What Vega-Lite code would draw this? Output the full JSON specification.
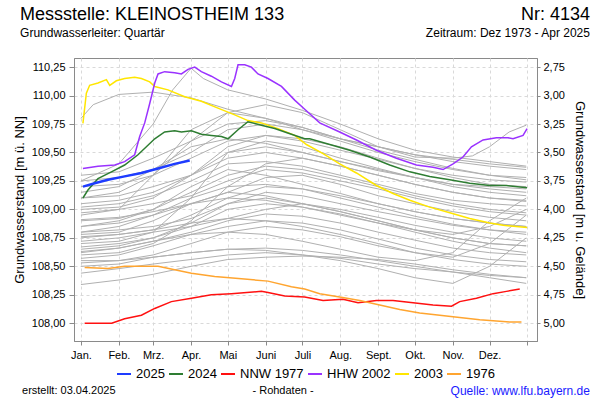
{
"$schema": "https://vega.github.io/schema/vega-lite/v6.json",
"width": 463, "height": 283,
"autosize": {"type": "none"},
"padding": {"left": 74, "top": 58, "right": 63, "bottom": 59},
"background": "white",
"config": {
  "font": "Liberation Sans",
  "view": {"stroke": "#8a8a8a", "strokeWidth": 1},
  "axis": {"labelFont": "Liberation Sans", "titleFont": "Liberation Sans", "labelColor": "#000000", "titleColor": "#000000", "titleFontWeight": "normal", "domainColor": "#8a8a8a", "tickColor": "#8a8a8a", "gridColor": "#d9d9d9", "gridDash": [3, 3]}
},
"datasets": {
"grau": [
{"s":"g1","d":0,"v":109.80},{"s":"g1","d":10,"v":109.92},{"s":"g1","d":31,"v":110.01},{"s":"g1","d":59,"v":110.03},{"s":"g1","d":90,"v":109.98},{"s":"g1","d":120,"v":109.88},{"s":"g1","d":151,"v":109.80},{"s":"g1","d":181,"v":109.70},{"s":"g1","d":212,"v":109.62},{"s":"g1","d":243,"v":109.55},{"s":"g1","d":273,"v":109.48},{"s":"g1","d":304,"v":109.44},{"s":"g1","d":334,"v":109.40},{"s":"g1","d":364,"v":109.37},
{"s":"g2","d":0,"v":109.25},{"s":"g2","d":31,"v":109.40},{"s":"g2","d":59,"v":109.75},{"s":"g2","d":75,"v":110.05},{"s":"g2","d":90,"v":110.24},{"s":"g2","d":100,"v":110.15},{"s":"g2","d":120,"v":110.05},{"s":"g2","d":151,"v":109.97},{"s":"g2","d":181,"v":109.87},{"s":"g2","d":212,"v":109.75},{"s":"g2","d":243,"v":109.62},{"s":"g2","d":273,"v":109.52},{"s":"g2","d":304,"v":109.46},{"s":"g2","d":334,"v":109.42},{"s":"g2","d":364,"v":109.38},
{"s":"g3","d":0,"v":109.10},{"s":"g3","d":31,"v":109.15},{"s":"g3","d":59,"v":109.30},{"s":"g3","d":90,"v":109.60},{"s":"g3","d":120,"v":109.85},{"s":"g3","d":151,"v":109.92},{"s":"g3","d":181,"v":109.85},{"s":"g3","d":212,"v":109.70},{"s":"g3","d":243,"v":109.55},{"s":"g3","d":273,"v":109.46},{"s":"g3","d":304,"v":109.45},{"s":"g3","d":320,"v":109.47},{"s":"g3","d":334,"v":109.55},{"s":"g3","d":350,"v":109.68},{"s":"g3","d":364,"v":109.74},
{"s":"g4","d":0,"v":109.30},{"s":"g4","d":31,"v":109.33},{"s":"g4","d":59,"v":109.45},{"s":"g4","d":90,"v":109.60},{"s":"g4","d":120,"v":109.75},{"s":"g4","d":151,"v":109.78},{"s":"g4","d":181,"v":109.72},{"s":"g4","d":212,"v":109.62},{"s":"g4","d":243,"v":109.55},{"s":"g4","d":273,"v":109.48},{"s":"g4","d":304,"v":109.42},{"s":"g4","d":334,"v":109.38},{"s":"g4","d":364,"v":109.35},
{"s":"g5","d":0,"v":109.20},{"s":"g5","d":31,"v":109.22},{"s":"g5","d":59,"v":109.30},{"s":"g5","d":90,"v":109.45},{"s":"g5","d":120,"v":109.60},{"s":"g5","d":151,"v":109.65},{"s":"g5","d":181,"v":109.60},{"s":"g5","d":212,"v":109.52},{"s":"g5","d":243,"v":109.44},{"s":"g5","d":273,"v":109.36},{"s":"g5","d":304,"v":109.30},{"s":"g5","d":334,"v":109.26},{"s":"g5","d":364,"v":109.24},
{"s":"g6","d":0,"v":109.15},{"s":"g6","d":31,"v":109.20},{"s":"g6","d":59,"v":109.35},{"s":"g6","d":90,"v":109.55},{"s":"g6","d":120,"v":109.62},{"s":"g6","d":151,"v":109.58},{"s":"g6","d":181,"v":109.50},{"s":"g6","d":212,"v":109.42},{"s":"g6","d":243,"v":109.34},{"s":"g6","d":273,"v":109.28},{"s":"g6","d":304,"v":109.22},{"s":"g6","d":334,"v":109.18},{"s":"g6","d":364,"v":109.15},
{"s":"g7","d":0,"v":109.10},{"s":"g7","d":31,"v":109.12},{"s":"g7","d":59,"v":109.20},{"s":"g7","d":90,"v":109.30},{"s":"g7","d":120,"v":109.45},{"s":"g7","d":151,"v":109.50},{"s":"g7","d":181,"v":109.45},{"s":"g7","d":212,"v":109.38},{"s":"g7","d":243,"v":109.30},{"s":"g7","d":273,"v":109.22},{"s":"g7","d":304,"v":109.15},{"s":"g7","d":334,"v":109.10},{"s":"g7","d":364,"v":109.08},
{"s":"g8","d":0,"v":109.02},{"s":"g8","d":31,"v":109.05},{"s":"g8","d":59,"v":109.12},{"s":"g8","d":90,"v":109.25},{"s":"g8","d":120,"v":109.40},{"s":"g8","d":151,"v":109.42},{"s":"g8","d":181,"v":109.38},{"s":"g8","d":212,"v":109.30},{"s":"g8","d":243,"v":109.22},{"s":"g8","d":273,"v":109.14},{"s":"g8","d":304,"v":109.08},{"s":"g8","d":334,"v":109.05},{"s":"g8","d":364,"v":109.03},
{"s":"g9","d":0,"v":108.97},{"s":"g9","d":31,"v":109.00},{"s":"g9","d":59,"v":109.05},{"s":"g9","d":90,"v":109.12},{"s":"g9","d":120,"v":109.25},{"s":"g9","d":151,"v":109.35},{"s":"g9","d":181,"v":109.32},{"s":"g9","d":212,"v":109.25},{"s":"g9","d":243,"v":109.18},{"s":"g9","d":273,"v":109.10},{"s":"g9","d":304,"v":109.03},{"s":"g9","d":334,"v":108.98},{"s":"g9","d":364,"v":108.95},
{"s":"g10","d":0,"v":108.91},{"s":"g10","d":31,"v":108.93},{"s":"g10","d":59,"v":108.98},{"s":"g10","d":90,"v":109.05},{"s":"g10","d":120,"v":109.15},{"s":"g10","d":151,"v":109.28},{"s":"g10","d":181,"v":109.30},{"s":"g10","d":212,"v":109.22},{"s":"g10","d":243,"v":109.12},{"s":"g10","d":273,"v":109.05},{"s":"g10","d":304,"v":108.98},{"s":"g10","d":334,"v":108.93},{"s":"g10","d":364,"v":108.90},
{"s":"g11","d":0,"v":108.85},{"s":"g11","d":31,"v":108.90},{"s":"g11","d":59,"v":109.00},{"s":"g11","d":90,"v":109.20},{"s":"g11","d":120,"v":109.35},{"s":"g11","d":151,"v":109.30},{"s":"g11","d":181,"v":109.22},{"s":"g11","d":212,"v":109.14},{"s":"g11","d":243,"v":109.05},{"s":"g11","d":273,"v":108.98},{"s":"g11","d":304,"v":108.92},{"s":"g11","d":334,"v":108.88},{"s":"g11","d":364,"v":108.85},
{"s":"g12","d":0,"v":108.80},{"s":"g12","d":31,"v":108.82},{"s":"g12","d":59,"v":108.85},{"s":"g12","d":90,"v":108.92},{"s":"g12","d":120,"v":109.05},{"s":"g12","d":151,"v":109.15},{"s":"g12","d":181,"v":109.12},{"s":"g12","d":212,"v":109.05},{"s":"g12","d":243,"v":108.98},{"s":"g12","d":273,"v":108.92},{"s":"g12","d":304,"v":108.86},{"s":"g12","d":334,"v":108.82},{"s":"g12","d":364,"v":108.80},
{"s":"g13","d":0,"v":108.76},{"s":"g13","d":31,"v":108.78},{"s":"g13","d":59,"v":108.82},{"s":"g13","d":90,"v":108.95},{"s":"g13","d":120,"v":109.10},{"s":"g13","d":151,"v":109.20},{"s":"g13","d":181,"v":109.18},{"s":"g13","d":212,"v":109.10},{"s":"g13","d":243,"v":109.02},{"s":"g13","d":273,"v":108.94},{"s":"g13","d":304,"v":108.87},{"s":"g13","d":334,"v":108.82},{"s":"g13","d":364,"v":108.78},
{"s":"g14","d":0,"v":108.72},{"s":"g14","d":31,"v":108.75},{"s":"g14","d":59,"v":108.80},{"s":"g14","d":90,"v":108.85},{"s":"g14","d":120,"v":108.92},{"s":"g14","d":151,"v":109.00},{"s":"g14","d":181,"v":109.05},{"s":"g14","d":212,"v":109.00},{"s":"g14","d":243,"v":108.93},{"s":"g14","d":273,"v":108.86},{"s":"g14","d":304,"v":108.80},{"s":"g14","d":334,"v":108.75},{"s":"g14","d":364,"v":108.72},
{"s":"g15","d":0,"v":108.67},{"s":"g15","d":31,"v":108.70},{"s":"g15","d":59,"v":108.75},{"s":"g15","d":90,"v":108.88},{"s":"g15","d":120,"v":109.05},{"s":"g15","d":151,"v":109.10},{"s":"g15","d":181,"v":109.05},{"s":"g15","d":212,"v":108.98},{"s":"g15","d":243,"v":108.90},{"s":"g15","d":273,"v":108.82},{"s":"g15","d":304,"v":108.75},{"s":"g15","d":334,"v":108.70},{"s":"g15","d":364,"v":108.68},
{"s":"g16","d":0,"v":108.63},{"s":"g16","d":31,"v":108.66},{"s":"g16","d":59,"v":108.72},{"s":"g16","d":90,"v":108.80},{"s":"g16","d":120,"v":108.90},{"s":"g16","d":151,"v":108.96},{"s":"g16","d":181,"v":108.94},{"s":"g16","d":212,"v":108.88},{"s":"g16","d":243,"v":108.80},{"s":"g16","d":273,"v":108.73},{"s":"g16","d":304,"v":108.66},{"s":"g16","d":334,"v":108.62},{"s":"g16","d":364,"v":108.60},
{"s":"g17","d":0,"v":108.57},{"s":"g17","d":31,"v":108.60},{"s":"g17","d":59,"v":108.68},{"s":"g17","d":90,"v":108.78},{"s":"g17","d":120,"v":108.85},{"s":"g17","d":151,"v":108.90},{"s":"g17","d":181,"v":108.88},{"s":"g17","d":212,"v":108.82},{"s":"g17","d":243,"v":108.74},{"s":"g17","d":273,"v":108.66},{"s":"g17","d":304,"v":108.60},{"s":"g17","d":334,"v":108.56},{"s":"g17","d":364,"v":108.54},
{"s":"g18","d":0,"v":108.53},{"s":"g18","d":31,"v":108.55},{"s":"g18","d":59,"v":108.60},{"s":"g18","d":90,"v":108.70},{"s":"g18","d":120,"v":108.80},{"s":"g18","d":151,"v":108.85},{"s":"g18","d":181,"v":108.82},{"s":"g18","d":212,"v":108.76},{"s":"g18","d":243,"v":108.68},{"s":"g18","d":273,"v":108.62},{"s":"g18","d":304,"v":108.56},{"s":"g18","d":334,"v":108.52},{"s":"g18","d":364,"v":108.50},
{"s":"g19","d":0,"v":108.44},{"s":"g19","d":31,"v":108.48},{"s":"g19","d":59,"v":108.52},{"s":"g19","d":90,"v":108.56},{"s":"g19","d":120,"v":108.60},{"s":"g19","d":151,"v":108.62},{"s":"g19","d":181,"v":108.60},{"s":"g19","d":212,"v":108.57},{"s":"g19","d":243,"v":108.52},{"s":"g19","d":273,"v":108.48},{"s":"g19","d":304,"v":108.45},{"s":"g19","d":334,"v":108.42},{"s":"g19","d":364,"v":108.40},
{"s":"g20","d":0,"v":108.34},{"s":"g20","d":31,"v":108.38},{"s":"g20","d":59,"v":108.43},{"s":"g20","d":90,"v":108.50},{"s":"g20","d":120,"v":108.56},{"s":"g20","d":151,"v":108.58},{"s":"g20","d":181,"v":108.59},{"s":"g20","d":212,"v":108.58},{"s":"g20","d":243,"v":108.56},{"s":"g20","d":273,"v":108.52},{"s":"g20","d":304,"v":108.47},{"s":"g20","d":334,"v":108.43},{"s":"g20","d":364,"v":108.40},
{"s":"g21","d":0,"v":108.70},{"s":"g21","d":31,"v":108.72},{"s":"g21","d":59,"v":108.80},{"s":"g21","d":90,"v":109.10},{"s":"g21","d":120,"v":109.50},{"s":"g21","d":151,"v":109.60},{"s":"g21","d":181,"v":109.55},{"s":"g21","d":212,"v":109.45},{"s":"g21","d":243,"v":109.36},{"s":"g21","d":273,"v":109.28},{"s":"g21","d":304,"v":109.20},{"s":"g21","d":334,"v":109.15},{"s":"g21","d":364,"v":109.12},
{"s":"g22","d":0,"v":108.95},{"s":"g22","d":31,"v":109.00},{"s":"g22","d":59,"v":109.30},{"s":"g22","d":90,"v":109.70},{"s":"g22","d":120,"v":109.85},{"s":"g22","d":151,"v":109.80},{"s":"g22","d":181,"v":109.72},{"s":"g22","d":212,"v":109.62},{"s":"g22","d":243,"v":109.52},{"s":"g22","d":273,"v":109.44},{"s":"g22","d":304,"v":109.36},{"s":"g22","d":334,"v":109.30},{"s":"g22","d":364,"v":109.26},
{"s":"g23","d":0,"v":108.60},{"s":"g23","d":31,"v":108.62},{"s":"g23","d":59,"v":108.70},{"s":"g23","d":90,"v":108.90},{"s":"g23","d":120,"v":109.20},{"s":"g23","d":151,"v":109.40},{"s":"g23","d":181,"v":109.45},{"s":"g23","d":212,"v":109.38},{"s":"g23","d":243,"v":109.30},{"s":"g23","d":273,"v":109.22},{"s":"g23","d":304,"v":109.15},{"s":"g23","d":334,"v":109.10},{"s":"g23","d":364,"v":109.07},
{"s":"g24","d":0,"v":108.85},{"s":"g24","d":31,"v":108.88},{"s":"g24","d":59,"v":108.95},{"s":"g24","d":90,"v":109.05},{"s":"g24","d":120,"v":109.10},{"s":"g24","d":151,"v":109.08},{"s":"g24","d":181,"v":109.02},{"s":"g24","d":212,"v":108.95},{"s":"g24","d":243,"v":108.88},{"s":"g24","d":273,"v":108.82},{"s":"g24","d":304,"v":108.78},{"s":"g24","d":334,"v":108.85},{"s":"g24","d":364,"v":109.00},
{"s":"g25","d":0,"v":108.75},{"s":"g25","d":31,"v":108.78},{"s":"g25","d":59,"v":108.82},{"s":"g25","d":90,"v":108.88},{"s":"g25","d":120,"v":108.92},{"s":"g25","d":151,"v":108.90},{"s":"g25","d":181,"v":108.85},{"s":"g25","d":212,"v":108.78},{"s":"g25","d":243,"v":108.70},{"s":"g25","d":273,"v":108.62},{"s":"g25","d":304,"v":108.58},{"s":"g25","d":334,"v":108.70},{"s":"g25","d":364,"v":108.95},
{"s":"g26","d":0,"v":109.05},{"s":"g26","d":31,"v":109.08},{"s":"g26","d":59,"v":109.15},{"s":"g26","d":90,"v":109.30},{"s":"g26","d":120,"v":109.50},{"s":"g26","d":151,"v":109.55},{"s":"g26","d":181,"v":109.50},{"s":"g26","d":212,"v":109.42},{"s":"g26","d":243,"v":109.35},{"s":"g26","d":273,"v":109.28},{"s":"g26","d":304,"v":109.22},{"s":"g26","d":334,"v":109.20},{"s":"g26","d":364,"v":109.18},
{"s":"g27","d":0,"v":108.50},{"s":"g27","d":31,"v":108.52},{"s":"g27","d":59,"v":108.58},{"s":"g27","d":90,"v":108.62},{"s":"g27","d":120,"v":108.65},{"s":"g27","d":151,"v":108.66},{"s":"g27","d":181,"v":108.64},{"s":"g27","d":212,"v":108.60},{"s":"g27","d":243,"v":108.55},{"s":"g27","d":273,"v":108.50},{"s":"g27","d":304,"v":108.45},{"s":"g27","d":334,"v":108.40},{"s":"g27","d":364,"v":108.35},
{"s":"g28","d":0,"v":108.80},{"s":"g28","d":31,"v":108.85},{"s":"g28","d":59,"v":108.95},{"s":"g28","d":90,"v":109.10},{"s":"g28","d":120,"v":109.20},{"s":"g28","d":151,"v":109.22},{"s":"g28","d":181,"v":109.18},{"s":"g28","d":212,"v":109.12},{"s":"g28","d":243,"v":109.05},{"s":"g28","d":273,"v":108.98},{"s":"g28","d":304,"v":108.92},{"s":"g28","d":334,"v":108.88},{"s":"g28","d":364,"v":108.85},
{"s":"g29","d":0,"v":109.25},{"s":"g29","d":31,"v":109.28},{"s":"g29","d":59,"v":109.35},{"s":"g29","d":90,"v":109.50},{"s":"g29","d":120,"v":109.70},{"s":"g29","d":151,"v":109.75},{"s":"g29","d":181,"v":109.70},{"s":"g29","d":212,"v":109.60},{"s":"g29","d":243,"v":109.50},{"s":"g29","d":273,"v":109.42},{"s":"g29","d":304,"v":109.35},{"s":"g29","d":334,"v":109.30},{"s":"g29","d":364,"v":109.28},
{"s":"g30","d":0,"v":108.65},{"s":"g30","d":31,"v":108.68},{"s":"g30","d":59,"v":108.75},{"s":"g30","d":90,"v":108.85},{"s":"g30","d":120,"v":109.00},{"s":"g30","d":151,"v":109.05},{"s":"g30","d":181,"v":109.02},{"s":"g30","d":212,"v":108.96},{"s":"g30","d":243,"v":108.88},{"s":"g30","d":273,"v":108.80},{"s":"g30","d":304,"v":108.72},{"s":"g30","d":334,"v":108.66},{"s":"g30","d":364,"v":108.62},
{"s":"g31","d":0,"v":108.90},{"s":"g31","d":31,"v":108.92},{"s":"g31","d":59,"v":109.00},{"s":"g31","d":90,"v":109.15},{"s":"g31","d":120,"v":109.30},{"s":"g31","d":151,"v":109.38},{"s":"g31","d":181,"v":109.35},{"s":"g31","d":212,"v":109.28},{"s":"g31","d":243,"v":109.20},{"s":"g31","d":273,"v":109.12},{"s":"g31","d":304,"v":109.05},{"s":"g31","d":334,"v":109.00},{"s":"g31","d":364,"v":108.97},
{"s":"g32","d":0,"v":108.55},{"s":"g32","d":31,"v":108.55},{"s":"g32","d":59,"v":108.58},{"s":"g32","d":90,"v":108.62},{"s":"g32","d":120,"v":108.65},{"s":"g32","d":151,"v":108.64},{"s":"g32","d":181,"v":108.60},{"s":"g32","d":212,"v":108.55},{"s":"g32","d":243,"v":108.48},{"s":"g32","d":273,"v":108.40},{"s":"g32","d":304,"v":108.35},{"s":"g32","d":334,"v":108.50},{"s":"g32","d":364,"v":108.75},
{"s":"g33","d":0,"v":109.00},{"s":"g33","d":31,"v":109.02},{"s":"g33","d":59,"v":109.10},{"s":"g33","d":90,"v":109.30},{"s":"g33","d":120,"v":109.55},{"s":"g33","d":151,"v":109.65},{"s":"g33","d":181,"v":109.62},{"s":"g33","d":212,"v":109.55},{"s":"g33","d":243,"v":109.45},{"s":"g33","d":273,"v":109.36},{"s":"g33","d":304,"v":109.28},{"s":"g33","d":334,"v":109.22},{"s":"g33","d":364,"v":109.20},
{"s":"g34","d":0,"v":108.78},{"s":"g34","d":31,"v":108.80},{"s":"g34","d":59,"v":108.90},{"s":"g34","d":90,"v":109.05},{"s":"g34","d":120,"v":109.15},{"s":"g34","d":151,"v":109.12},{"s":"g34","d":181,"v":109.05},{"s":"g34","d":212,"v":108.98},{"s":"g34","d":243,"v":108.90},{"s":"g34","d":273,"v":108.82},{"s":"g34","d":304,"v":108.75},{"s":"g34","d":334,"v":108.70},{"s":"g34","d":364,"v":108.68},
{"s":"g35","d":0,"v":108.62},{"s":"g35","d":31,"v":108.66},{"s":"g35","d":59,"v":108.72},{"s":"g35","d":90,"v":108.78},{"s":"g35","d":120,"v":108.80},{"s":"g35","d":151,"v":108.78},{"s":"g35","d":181,"v":108.72},{"s":"g35","d":212,"v":108.65},{"s":"g35","d":243,"v":108.58},{"s":"g35","d":273,"v":108.55},{"s":"g35","d":304,"v":108.62},{"s":"g35","d":334,"v":108.90},{"s":"g35","d":364,"v":109.10}
],
"farbig": [
{"s":"2003","d":1.6,"v":109.756},{"s":"2003","d":4.4,"v":110.02},{"s":"2003","d":7.1,"v":110.09},{"s":"2003","d":13.9,"v":110.11},{"s":"2003","d":20.8,"v":110.14},{"s":"2003","d":23.5,"v":110.09},{"s":"2003","d":28.9,"v":110.13},{"s":"2003","d":35.7,"v":110.15},{"s":"2003","d":43.9,"v":110.16},{"s":"2003","d":49.4,"v":110.15},{"s":"2003","d":56.2,"v":110.12},{"s":"2003","d":60.3,"v":110.08},{"s":"2003","d":71.1,"v":110.05},{"s":"2003","d":84.8,"v":109.99},{"s":"2003","d":98.4,"v":109.95},{"s":"2003","d":112,"v":109.89},{"s":"2003","d":125.7,"v":109.83},{"s":"2003","d":136.5,"v":109.78},{"s":"2003","d":147.5,"v":109.76},{"s":"2003","d":161.1,"v":109.71},{"s":"2003","d":174.7,"v":109.65},{"s":"2003","d":184.3,"v":109.57},{"s":"2003","d":197.9,"v":109.49},{"s":"2003","d":211.5,"v":109.40},{"s":"2003","d":225.2,"v":109.32},{"s":"2003","d":241.5,"v":109.21},{"s":"2003","d":255.1,"v":109.14},{"s":"2003","d":268.8,"v":109.08},{"s":"2003","d":285.1,"v":109.02},{"s":"2003","d":301.5,"v":108.97},{"s":"2003","d":317.8,"v":108.92},{"s":"2003","d":334.2,"v":108.88},{"s":"2003","d":345.1,"v":108.86},{"s":"2003","d":364.7,"v":108.84},
{"s":"HHW 2002","d":1.6,"v":109.36},{"s":"HHW 2002","d":13.9,"v":109.38},{"s":"HHW 2002","d":27.6,"v":109.39},{"s":"HHW 2002","d":35.7,"v":109.42},{"s":"HHW 2002","d":43.9,"v":109.48},{"s":"HHW 2002","d":48,"v":109.64},{"s":"HHW 2002","d":52.1,"v":109.76},{"s":"HHW 2002","d":56.2,"v":109.93},{"s":"HHW 2002","d":60.3,"v":110.11},{"s":"HHW 2002","d":63,"v":110.19},{"s":"HHW 2002","d":68.4,"v":110.21},{"s":"HHW 2002","d":76.6,"v":110.20},{"s":"HHW 2002","d":82.1,"v":110.19},{"s":"HHW 2002","d":87.5,"v":110.23},{"s":"HHW 2002","d":93,"v":110.25},{"s":"HHW 2002","d":98.4,"v":110.21},{"s":"HHW 2002","d":106.6,"v":110.17},{"s":"HHW 2002","d":114.8,"v":110.12},{"s":"HHW 2002","d":123,"v":110.08},{"s":"HHW 2002","d":125.7,"v":110.15},{"s":"HHW 2002","d":128.4,"v":110.27},{"s":"HHW 2002","d":133.9,"v":110.27},{"s":"HHW 2002","d":139.3,"v":110.25},{"s":"HHW 2002","d":144.7,"v":110.19},{"s":"HHW 2002","d":152.9,"v":110.15},{"s":"HHW 2002","d":163.9,"v":110.08},{"s":"HHW 2002","d":174.7,"v":109.96},{"s":"HHW 2002","d":182.9,"v":109.88},{"s":"HHW 2002","d":195.2,"v":109.76},{"s":"HHW 2002","d":211.5,"v":109.68},{"s":"HHW 2002","d":225.2,"v":109.61},{"s":"HHW 2002","d":241.5,"v":109.52},{"s":"HHW 2002","d":257.9,"v":109.45},{"s":"HHW 2002","d":274.2,"v":109.39},{"s":"HHW 2002","d":287.8,"v":109.37},{"s":"HHW 2002","d":296,"v":109.35},{"s":"HHW 2002","d":304.2,"v":109.40},{"s":"HHW 2002","d":312.3,"v":109.46},{"s":"HHW 2002","d":319.2,"v":109.55},{"s":"HHW 2002","d":328.7,"v":109.61},{"s":"HHW 2002","d":339.6,"v":109.63},{"s":"HHW 2002","d":349.1,"v":109.63},{"s":"HHW 2002","d":353.2,"v":109.62},{"s":"HHW 2002","d":361.4,"v":109.65},{"s":"HHW 2002","d":364.7,"v":109.71},
{"s":"2024","d":1.6,"v":109.10},{"s":"2024","d":5.7,"v":109.17},{"s":"2024","d":13.9,"v":109.27},{"s":"2024","d":24.9,"v":109.33},{"s":"2024","d":35.7,"v":109.39},{"s":"2024","d":46.6,"v":109.48},{"s":"2024","d":60.3,"v":109.62},{"s":"2024","d":68.4,"v":109.68},{"s":"2024","d":76.6,"v":109.69},{"s":"2024","d":82.1,"v":109.68},{"s":"2024","d":90.3,"v":109.69},{"s":"2024","d":98.4,"v":109.66},{"s":"2024","d":106.6,"v":109.65},{"s":"2024","d":114.8,"v":109.64},{"s":"2024","d":120.2,"v":109.62},{"s":"2024","d":128.4,"v":109.70},{"s":"2024","d":136.5,"v":109.77},{"s":"2024","d":147.5,"v":109.74},{"s":"2024","d":158.4,"v":109.71},{"s":"2024","d":172,"v":109.66},{"s":"2024","d":182.9,"v":109.62},{"s":"2024","d":187,"v":109.62},{"s":"2024","d":203.4,"v":109.57},{"s":"2024","d":219.7,"v":109.52},{"s":"2024","d":236.1,"v":109.46},{"s":"2024","d":252.4,"v":109.39},{"s":"2024","d":268.8,"v":109.33},{"s":"2024","d":285.1,"v":109.29},{"s":"2024","d":301.5,"v":109.26},{"s":"2024","d":317.8,"v":109.23},{"s":"2024","d":334.2,"v":109.21},{"s":"2024","d":347.8,"v":109.21},{"s":"2024","d":364.7,"v":109.19},
{"s":"NNW 1977","d":3,"v":108.00},{"s":"NNW 1977","d":25.1,"v":108.00},{"s":"NNW 1977","d":35.7,"v":108.04},{"s":"NNW 1977","d":49.4,"v":108.07},{"s":"NNW 1977","d":60.3,"v":108.13},{"s":"NNW 1977","d":73.9,"v":108.19},{"s":"NNW 1977","d":90.3,"v":108.22},{"s":"NNW 1977","d":106.6,"v":108.25},{"s":"NNW 1977","d":123,"v":108.26},{"s":"NNW 1977","d":147.5,"v":108.28},{"s":"NNW 1977","d":152.9,"v":108.27},{"s":"NNW 1977","d":166.6,"v":108.24},{"s":"NNW 1977","d":182.9,"v":108.23},{"s":"NNW 1977","d":197.9,"v":108.20},{"s":"NNW 1977","d":214.2,"v":108.21},{"s":"NNW 1977","d":226.5,"v":108.18},{"s":"NNW 1977","d":241.5,"v":108.20},{"s":"NNW 1977","d":255.1,"v":108.20},{"s":"NNW 1977","d":271.5,"v":108.18},{"s":"NNW 1977","d":287.8,"v":108.16},{"s":"NNW 1977","d":302.9,"v":108.15},{"s":"NNW 1977","d":309.6,"v":108.19},{"s":"NNW 1977","d":323.3,"v":108.22},{"s":"NNW 1977","d":336.9,"v":108.26},{"s":"NNW 1977","d":347.8,"v":108.28},{"s":"NNW 1977","d":358.7,"v":108.30},
{"s":"1976","d":3,"v":108.49},{"s":"1976","d":22.1,"v":108.48},{"s":"1976","d":35.7,"v":108.50},{"s":"1976","d":49.4,"v":108.50},{"s":"1976","d":63,"v":108.50},{"s":"1976","d":76.6,"v":108.47},{"s":"1976","d":90.3,"v":108.44},{"s":"1976","d":109.3,"v":108.41},{"s":"1976","d":131.2,"v":108.39},{"s":"1976","d":152.9,"v":108.37},{"s":"1976","d":172,"v":108.32},{"s":"1976","d":182.9,"v":108.30},{"s":"1976","d":195.2,"v":108.26},{"s":"1976","d":211.5,"v":108.23},{"s":"1976","d":227.9,"v":108.20},{"s":"1976","d":244.2,"v":108.16},{"s":"1976","d":260.6,"v":108.12},{"s":"1976","d":276.9,"v":108.09},{"s":"1976","d":293.3,"v":108.07},{"s":"1976","d":309.6,"v":108.05},{"s":"1976","d":326,"v":108.03},{"s":"1976","d":339.6,"v":108.02},{"s":"1976","d":350.5,"v":108.01},{"s":"1976","d":360.1,"v":108.01},
{"s":"2025","d":1.6,"v":109.20},{"s":"2025","d":11.2,"v":109.23},{"s":"2025","d":22.1,"v":109.26},{"s":"2025","d":35.7,"v":109.29},{"s":"2025","d":49.4,"v":109.32},{"s":"2025","d":63,"v":109.36},{"s":"2025","d":76.6,"v":109.40},{"s":"2025","d":88.9,"v":109.43}
]
},
"layer": [
{"layer": [
  {"data": {"name": "grau"},
   "mark": {"type": "line", "stroke": "#b0b0b0", "strokeWidth": 1, "clip": true},
   "encoding": {
     "x": {"field": "d", "type": "quantitative", "scale": {"domain": [-5.7, 372.8], "nice": false, "zero": false},
           "axis": {"values": [0,31,59,90,120,151,181,212,243,273,304,334,365], "tickCount": 30, "labelExpr": "['Jan.','Feb.','Mrz.','Apr.','Mai','Juni','Juli','Aug.','Sept.','Okt.','Nov.','Dez.',''][indexof([0,31,59,90,120,151,181,212,243,273,304,334,365], datum.value)]", "labelDx": 19, "labelFontSize": 11, "tickSize": 4, "labelPadding": 4, "title": null, "grid": true, "labelAngle": 0, "labelFlush": false, "labelOverlap": false}},
     "y": {"field": "v", "type": "quantitative", "scale": {"domain": [107.844, 110.33], "nice": false, "zero": false},
           "axis": {"values": [108,108.25,108.5,108.75,109,109.25,109.5,109.75,110,110.25], "tickCount": 30, "labelExpr": "replace(format(datum.value, '.2f'), '.', ',')", "labelFontSize": 11, "tickSize": 5, "labelPadding": 4, "title": "Grundwasserstand [m ü. NN]", "titleFontSize": 13, "titlePadding": 5, "grid": true, "labelFlush": false, "labelOverlap": false}},
     "detail": {"field": "s"}
   }},
  {"data": {"name": "farbig"},
   "transform": [{"filter": "datum.s !== '2025'"}],
   "mark": {"type": "line", "strokeWidth": 1.5, "clip": true},
   "encoding": {
     "x": {"field": "d", "type": "quantitative", "scale": {"domain": [-5.7, 372.8], "nice": false, "zero": false}},
     "y": {"field": "v", "type": "quantitative", "scale": {"domain": [107.844, 110.33], "nice": false, "zero": false}},
     "color": {"field": "s", "type": "nominal",
       "scale": {"domain": ["2025", "2024", "NNW 1977", "HHW 2002", "2003", "1976"], "range": ["#1e3cff", "#2e7d32", "#ff1010", "#9a32ff", "#ffe600", "#ffa530"]},
       "legend": {"title": null, "orient": "none", "legendX": 42, "legendY": 308, "direction": "horizontal", "symbolType": "stroke", "symbolSize": 196, "symbolStrokeWidth": 2, "labelFontSize": 13, "labelFont": "Liberation Sans", "labelColor": "#000000", "labelOffset": 4, "columnPadding": 0}}
   }},
  {"data": {"name": "farbig"},
   "transform": [{"filter": "datum.s === '2025'"}],
   "mark": {"type": "line", "strokeWidth": 2.5, "clip": true},
   "encoding": {
     "x": {"field": "d", "type": "quantitative", "scale": {"domain": [-5.7, 372.8], "nice": false, "zero": false}},
     "y": {"field": "v", "type": "quantitative", "scale": {"domain": [107.844, 110.33], "nice": false, "zero": false}},
     "color": {"field": "s", "type": "nominal", "scale": {"domain": ["2025", "2024", "NNW 1977", "HHW 2002", "2003", "1976"], "range": ["#1e3cff", "#2e7d32", "#ff1010", "#9a32ff", "#ffe600", "#ffa530"]}}
   }},
  {"data": {"values": [{}]},
   "mark": {"type": "text", "text": "Messstelle: KLEINOSTHEIM 133", "align": "left", "baseline": "middle", "fontSize": 18, "font": "Liberation Sans", "color": "#000000"},
   "encoding": {"x": {"datum": -49.8, "type": "quantitative"}, "y": {"datum": 110.71, "type": "quantitative"}}},
  {"data": {"values": [{}]},
   "mark": {"type": "text", "text": "Grundwasserleiter: Quartär", "align": "left", "baseline": "middle", "fontSize": 12, "font": "Liberation Sans", "color": "#000000"},
   "encoding": {"x": {"datum": -49.8, "type": "quantitative"}, "y": {"datum": 110.55, "type": "quantitative"}}},
  {"data": {"values": [{}]},
   "mark": {"type": "text", "text": "Nr: 4134", "align": "right", "baseline": "middle", "fontSize": 18, "font": "Liberation Sans", "color": "#000000"},
   "encoding": {"x": {"datum": 416.1, "type": "quantitative"}, "y": {"datum": 110.71, "type": "quantitative"}}},
  {"data": {"values": [{}]},
   "mark": {"type": "text", "text": "Zeitraum: Dez 1973 - Apr 2025", "align": "right", "baseline": "middle", "fontSize": 12, "font": "Liberation Sans", "color": "#000000"},
   "encoding": {"x": {"datum": 416.1, "type": "quantitative"}, "y": {"datum": 110.55, "type": "quantitative"}}},
  {"data": {"values": [{}]},
   "mark": {"type": "text", "text": "erstellt:  03.04.2025", "align": "left", "baseline": "middle", "fontSize": 11, "font": "Liberation Sans", "color": "#000000"},
   "encoding": {"x": {"datum": -48.2, "type": "quantitative"}, "y": {"datum": 107.405, "type": "quantitative"}}},
  {"data": {"values": [{}]},
   "mark": {"type": "text", "text": "- Rohdaten -", "align": "center", "baseline": "middle", "fontSize": 11, "font": "Liberation Sans", "color": "#000000"},
   "encoding": {"x": {"datum": 165.2, "type": "quantitative"}, "y": {"datum": 107.405, "type": "quantitative"}}},
  {"data": {"values": [{}]},
   "mark": {"type": "text", "text": "Quelle: www.lfu.bayern.de", "align": "right", "baseline": "middle", "fontSize": 12, "font": "Liberation Sans", "color": "#1a1aff"},
   "encoding": {"x": {"datum": 416.1, "type": "quantitative"}, "y": {"datum": 107.405, "type": "quantitative"}}}
]},
{"data": {"values": [{}]},
 "mark": {"type": "point", "opacity": 0},
 "encoding": {
   "y": {"datum": 4, "type": "quantitative", "scale": {"domain": [2.67, 5.156], "reverse": true, "nice": false, "zero": false},
         "axis": {"orient": "right", "values": [2.75,3,3.25,3.5,3.75,4,4.25,4.5,4.75,5], "tickCount": 30, "labelExpr": "replace(format(datum.value, '.2f'), '.', ',')", "labelFontSize": 11, "tickSize": 3, "labelPadding": 3, "title": "Grundwasserstand [m u. Gelände]", "titleFontSize": 13, "titlePadding": 8, "grid": false, "labelFlush": false, "labelOverlap": false}}
 }}
],
"resolve": {"scale": {"y": "independent"}, "axis": {"y": "independent"}}
}
